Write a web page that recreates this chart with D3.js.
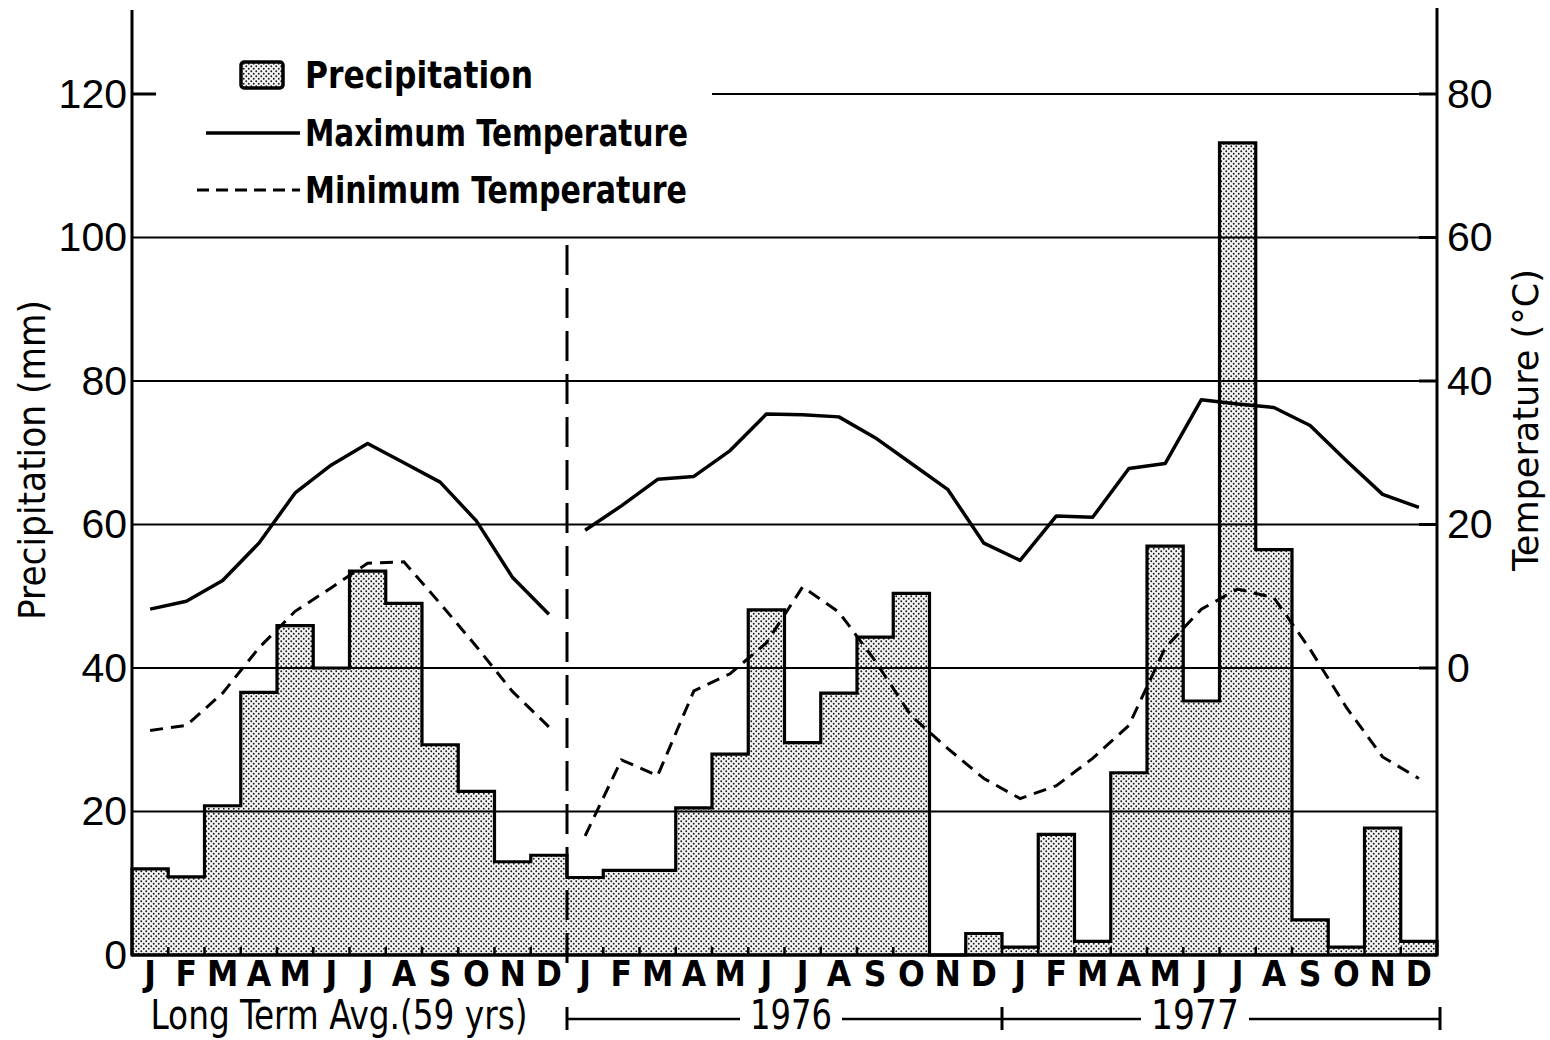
<!DOCTYPE html>
<html><head><meta charset="utf-8">
<script src="https://cdn.jsdelivr.net/npm/d3@7"></script>
<style>body{margin:0;background:#fff}svg{display:block}</style>
</head><body>
<svg id="chart" width="1550" height="1040"></svg>
<script>
// ---------- data ----------
const months = ["J","F","M","A","M","J","J","A","S","O","N","D"];
const periodLabels = ["Long Term Avg.(59 yrs)", "1976", "1977"];
const precipTicks = [0, 20, 40, 60, 80, 100, 120];
const tempTicks = [0, 20, 40, 60, 80];
const legendLabels = ["Precipitation", "Maximum Temperature", "Minimum Temperature"];
const axisTitles = ["Precipitation (mm)", "Temperature (°C)"];

// precipitation (mm)
const precipLongTerm = [12, 10.9, 20.8, 36.6, 45.9, 40, 53.5, 49, 29.3, 22.8, 13, 13.9];
const precip1976 = [10.8, 11.8, 11.8, 20.5, 28, 48.1, 29.6, 36.5, 44.3, 50.4, 0, 3];
const precip1977 = [1.1, 16.8, 1.9, 25.4, 57, 35.4, 113.2, 56.5, 4.9, 1.1, 17.7, 1.9];

// temperature (°C)
const tmaxLongTerm = [8.2, 9.3, 12.2, 17.4, 24.4, 28.3, 31.3, 28.6, 25.9, 20.5, 12.6, 7.5];
const tminLongTerm = [-8.7, -8, -3.5, 2.8, 7.9, 11.2, 14.6, 14.8, 9, 3, -3.3, -8.2];
const tmax1976 = [19.2, 22.6, 26.3, 26.7, 30.3, 35.4, 35.3, 35, 32.1, 28.5, 24.9, 17.4];
const tmin1976 = [-23.4, -12.8, -15, -3.2, -0.8, 3.5, 11.3, 7.8, 1, -6.7, -11.2, -15.4];
const tmax1977 = [15, 21.2, 21, 27.8, 28.5, 37.4, 36.8, 36.3, 33.8, 28.9, 24.2, 22.4];
const tmin1977 = [-18.2, -16.4, -12.6, -8, 2.8, 8.2, 11, 9.8, 2.6, -5.5, -12.4, -15.4];

// ---------- layout ----------
const L = 132, R = 1437, T = 94, B = 955;
const FONT = "'Liberation Sans Narrow','Arial Narrow','DejaVu Sans Condensed',sans-serif";
const FONT_R = "'Liberation Sans',Arial,sans-serif";

const svg = d3.select("#chart");
const allPrecip = precipLongTerm.concat(precip1976, precip1977);
const nMonths = allPrecip.length;

const x = d3.scaleLinear().domain([0, nMonths]).range([L, R]);
const xb = d3.scaleBand().domain(d3.range(nMonths)).range([L, R]);
const y = d3.scaleLinear().domain([0, 120]).range([B, T]);
const yT = d3.scaleLinear().domain([-40, 80]).range([B, T]);

// stipple pattern
const defs = svg.append("defs");
const pat = defs.append("pattern").attr("id", "dots")
  .attr("width", 5).attr("height", 5).attr("patternUnits", "userSpaceOnUse");
pat.append("rect").attr("width", 5).attr("height", 5).attr("fill", "#f4f4f4");
pat.append("circle").attr("cx", 1.25).attr("cy", 1.25).attr("r", 0.95).attr("fill", "#1a1a1a");
pat.append("circle").attr("cx", 3.75).attr("cy", 3.75).attr("r", 0.95).attr("fill", "#1a1a1a");

// bars
svg.append("g").selectAll("rect").data(allPrecip).join("rect")
  .attr("x", (d, i) => x(i)).attr("width", x(1) - x(0))
  .attr("y", d => y(d)).attr("height", d => y(0) - y(d))
  .attr("fill", "url(#dots)");

// step outline
const stepPts = [[0, 0]];
allPrecip.forEach((v, i) => { stepPts.push([i, v], [i + 1, v]); });
stepPts.push([nMonths, 0]);
svg.append("path").datum(stepPts)
  .attr("d", d3.line().x(d => x(d[0])).y(d => y(d[1])))
  .attr("fill", "none").attr("stroke", "#000").attr("stroke-width", 3.2)
  .attr("stroke-linejoin", "miter");

// gridlines
const grid = svg.append("g").attr("stroke", "#000").attr("stroke-width", 2);
precipTicks.filter(t => t > 0 && t < 120).forEach(t => {
  grid.append("line").attr("x1", L).attr("x2", R).attr("y1", y(t)).attr("y2", y(t));
});
grid.append("line").attr("x1", 712).attr("x2", R).attr("y1", y(120)).attr("y2", y(120));
grid.append("line").attr("x1", L).attr("x2", L + 24).attr("y1", y(120)).attr("y2", y(120)).attr("stroke-width", 3);

// temperature lines
const lineT = d3.line().x(d => xb(d.i) + xb.bandwidth() / 2).y(d => yT(d.v));
const lt = a => a.map((v, i) => ({ i, v }));
const yr = a => a.map((v, i) => ({ i: i + 12, v }));
svg.append("path").datum(lt(tmaxLongTerm)).attr("d", lineT)
  .attr("fill", "none").attr("stroke", "#000").attr("stroke-width", 3.5).attr("stroke-linejoin", "round");
svg.append("path").datum(yr(tmax1976.concat(tmax1977))).attr("d", lineT)
  .attr("fill", "none").attr("stroke", "#000").attr("stroke-width", 3.5).attr("stroke-linejoin", "round");
svg.append("path").datum(lt(tminLongTerm)).attr("d", lineT)
  .attr("fill", "none").attr("stroke", "#000").attr("stroke-width", 3).attr("stroke-dasharray", "13,8");
svg.append("path").datum(yr(tmin1976.concat(tmin1977))).attr("d", lineT)
  .attr("fill", "none").attr("stroke", "#000").attr("stroke-width", 3).attr("stroke-dasharray", "13,8");

// divider
svg.append("line").attr("x1", x(12)).attr("x2", x(12)).attr("y1", 245).attr("y2", 972)
  .attr("stroke", "#000").attr("stroke-width", 3).attr("stroke-dasharray", "30,13");

// axes lines
svg.append("line").attr("x1", L).attr("x2", L).attr("y1", 10).attr("y2", B + 1.5)
  .attr("stroke", "#000").attr("stroke-width", 3);
svg.append("line").attr("x1", R).attr("x2", R).attr("y1", 8).attr("y2", B + 1.5)
  .attr("stroke", "#000").attr("stroke-width", 3);
svg.append("line").attr("x1", L).attr("x2", R).attr("y1", B).attr("y2", B)
  .attr("stroke", "#000").attr("stroke-width", 3.5);
// month ticks
svg.append("g").selectAll("line").data(d3.range(1, nMonths)).join("line")
  .attr("x1", d => x(d)).attr("x2", d => x(d)).attr("y1", B).attr("y2", B - 8)
  .attr("stroke", "#000").attr("stroke-width", 2.5);

// left axis labels
const ax1 = svg.append("g").attr("transform", `translate(${L},0)`)
  .call(d3.axisLeft(y).tickValues(precipTicks).tickSize(0).tickPadding(5));
ax1.select(".domain").remove();
ax1.selectAll("text").attr("font-family", FONT_R).attr("font-size", 41).attr("fill", "#000");

// right axis labels
const ax2 = svg.append("g").attr("transform", `translate(${R},0)`)
  .call(d3.axisRight(yT).tickValues(tempTicks).tickSize(0).tickPadding(10));
ax2.select(".domain").remove();
ax2.selectAll("text").attr("font-family", FONT_R).attr("font-size", 41).attr("fill", "#000");
// right ticks
svg.append("g").selectAll("line").data(tempTicks).join("line")
  .attr("x1", R - 18).attr("x2", R).attr("y1", d => yT(d)).attr("y2", d => yT(d))
  .attr("stroke", "#000").attr("stroke-width", 3);

// bottom axis (month letters)
const ax3 = svg.append("g").attr("transform", `translate(0,${B})`)
  .call(d3.axisBottom(xb).tickFormat(i => months[i % 12]).tickSize(0).tickPadding(6));
ax3.select(".domain").remove();
ax3.selectAll("text").attr("font-family", FONT).attr("font-weight", "bold")
  .attr("font-size", 35).attr("fill", "#000");

// period labels
const pY = 1029;
svg.append("text").text(periodLabels[0]).attr("x", 339).attr("y", pY)
  .attr("text-anchor", "middle").attr("font-family", FONT).attr("font-size", 40)
  .attr("textLength", 377).attr("lengthAdjust", "spacingAndGlyphs");
function bracket(x0, x1, cx, label, w) {
  const g = svg.append("g").attr("stroke", "#000").attr("stroke-width", 2.5);
  const ly = 1019;
  g.append("line").attr("x1", x0).attr("x2", cx - w / 2 - 10).attr("y1", ly).attr("y2", ly);
  g.append("line").attr("x1", cx + w / 2 + 10).attr("x2", x1).attr("y1", ly).attr("y2", ly);
  svg.append("text").text(label).attr("x", cx).attr("y", pY).attr("text-anchor", "middle")
    .attr("font-family", FONT).attr("font-size", 40)
    .attr("textLength", w).attr("lengthAdjust", "spacingAndGlyphs");
}
bracket(x(12), x(24), 791, periodLabels[1], 82);
bracket(x(24), x(36) + 3, 1195, periodLabels[2], 88);
[x(12), x(24), x(36) + 3].forEach(xx => {
  svg.append("line").attr("x1", xx).attr("x2", xx).attr("y1", 1007).attr("y2", 1030)
    .attr("stroke", "#000").attr("stroke-width", 3);
});

// legend
svg.append("rect").attr("x", 241).attr("y", 62).attr("width", 42).attr("height", 26).attr("rx", 3)
  .attr("fill", "url(#dots)").attr("stroke", "#000").attr("stroke-width", 3.5);
svg.append("line").attr("x1", 206).attr("x2", 300).attr("y1", 133).attr("y2", 133)
  .attr("stroke", "#000").attr("stroke-width", 3.5);
svg.append("line").attr("x1", 197).attr("x2", 300).attr("y1", 190).attr("y2", 190)
  .attr("stroke", "#000").attr("stroke-width", 3).attr("stroke-dasharray", "12,7");
const legY = [88, 146, 203], legW = [228, 383, 382];
legendLabels.forEach((t, i) => {
  svg.append("text").text(t).attr("x", 305).attr("y", legY[i])
    .attr("font-family", FONT).attr("font-weight", "bold").attr("font-size", 38)
    .attr("textLength", legW[i]).attr("lengthAdjust", "spacingAndGlyphs");
});

// axis titles
svg.append("text").text(axisTitles[0]).attr("transform", "translate(45,460) rotate(-90)")
  .attr("text-anchor", "middle").attr("font-family", FONT).attr("font-size", 38)
  .attr("textLength", 320).attr("lengthAdjust", "spacingAndGlyphs");
svg.append("text").text(axisTitles[1]).attr("transform", "translate(1538,420) rotate(-90)")
  .attr("text-anchor", "middle").attr("font-family", FONT).attr("font-size", 36)
  .attr("textLength", 302).attr("lengthAdjust", "spacingAndGlyphs");
</script>
</body></html>
